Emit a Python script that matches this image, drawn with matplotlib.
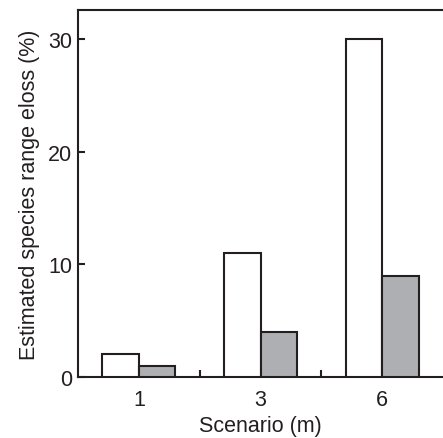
import matplotlib
matplotlib.use("Agg")
import matplotlib.pyplot as plt
import numpy as np

scenarios = ["1", "3", "6"]
white_vals = [2, 11, 30]
gray_vals = [1, 4, 9]
yticks = [0, 10, 20, 30]

plt.rcParams['font.family'] = ['Liberation Sans', 'DejaVu Sans']

fig = plt.figure(figsize=(4.43, 4.39), dpi=100)
ax = fig.add_axes([78/443, 1-378/439, 1-78/443, (378-10.7)/439])

x = np.arange(len(scenarios))
w = 0.3
edge = "#231f20"
ax.bar(x - w/2, white_vals, w, color="white", edgecolor=edge, linewidth=1.5, zorder=3)
ax.bar(x + w/2, gray_vals, w, color="#aeafb2", edgecolor=edge, linewidth=1.5, zorder=3)

ax.set_xlim(-0.5, 2.5)
ax.set_ylim(0, 32.6)
ax.set_yticks(yticks)
ax.set_xticks(x)
ax.set_xticklabels(scenarios)
ax.set_xticks([0.5, 1.5], minor=True)
ax.tick_params(axis="x", which="major", length=0, pad=9, labelsize=15.5, colors="#231f20")
ax.tick_params(axis="x", which="minor", direction="in", length=5, width=1.5, color=edge)
ax.tick_params(axis="y", direction="in", length=5, width=1.5, labelsize=15.5, pad=4, color=edge, labelcolor="#231f20")

for s in ["left", "top", "bottom"]:
    ax.spines[s].set_linewidth(1.5)
    ax.spines[s].set_color(edge)
ax.spines["right"].set_visible(False)

ax.set_xlabel("Scenario (m)", fontsize=15.5, color="#231f20", labelpad=3)
ax.set_ylabel("Estimated species range eloss (%)", fontsize=15.5, color="#231f20", labelpad=6)

fig.savefig("out.png", dpi=100)
